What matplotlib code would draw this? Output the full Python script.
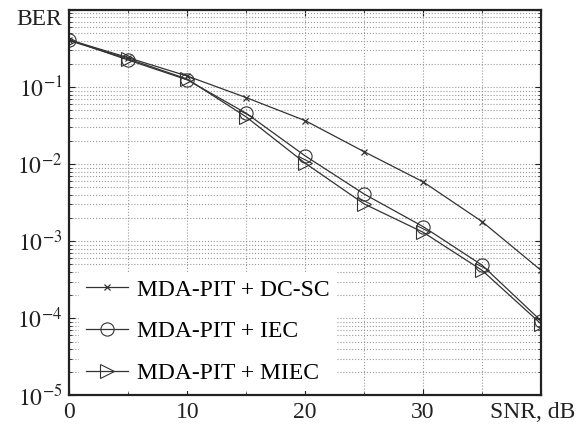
import matplotlib
matplotlib.use('Agg')
import matplotlib.pyplot as plt
from matplotlib.ticker import MultipleLocator, LogLocator, NullFormatter
from matplotlib.transforms import ScaledTranslation

# data
snr = [0, 5, 10, 15, 20, 25, 30, 35, 40]
ber_dcsc = [0.41, 0.24, 0.139, 0.073, 0.0367, 0.0145, 0.0059, 0.0018, 0.00042]
ber_iec = [0.41, 0.224, 0.124, 0.0457, 0.0128, 0.0041, 0.00155, 0.00049, 0.000093]
ber_miec = [0.40, 0.232, 0.127, 0.041, 0.0103, 0.00305, 0.00131, 0.00042, 0.000085]
labels = ['MDA-PIT + DC-SC', 'MDA-PIT + IEC', 'MDA-PIT + MIEC']
xtick_vals = [0, 10, 20, 30, 40]
xtick_labels = ['0', '10', '20', '30', 'SNR, dB']
ytick_vals = [1, 1e-1, 1e-2, 1e-3, 1e-4, 1e-5]
ytick_labels = ['BER', r'$10^{-1}$', r'$10^{-2}$', r'$10^{-3}$', r'$10^{-4}$', r'$10^{-5}$']

plt.rcParams['font.family'] = ['Liberation Serif', 'DejaVu Serif']
plt.rcParams['mathtext.fontset'] = 'stix'

fig = plt.figure(figsize=(5.83, 4.26), dpi=100)
ax = fig.add_axes([0.119, 0.0716, 0.809, 0.905])

col = '#333333'
ax.semilogy(snr, ber_dcsc, color=col, lw=0.9, marker='x', ms=4.5, mew=0.9, label=labels[0])
ax.semilogy(snr, ber_iec, color=col, lw=0.9, marker='o', ms=9.5, mfc='none', mew=0.8, label=labels[1])
ax.semilogy(snr, ber_miec, color=col, lw=0.9, marker='>', ms=9.5, mfc='none', mew=0.8, label=labels[2])

ax.set_xlim(0, 40)
ax.set_ylim(1e-5, 1)
ax.set_xticks(xtick_vals)
ax.set_xticklabels(xtick_labels)
ax.xaxis.set_minor_locator(MultipleLocator(5))
ax.set_yticks(ytick_vals)
ax.set_yticklabels(ytick_labels)
ax.yaxis.set_minor_locator(LogLocator(base=10, subs=range(2, 10), numticks=20))
ax.yaxis.set_minor_formatter(NullFormatter())

ax.tick_params(which='both', direction='in', top=True, right=True, labelsize=17, colors='#222222')
ax.tick_params(which='major', length=4, width=0.8)
ax.tick_params(which='minor', length=2.5, width=0.6)
ax.tick_params(axis='x', pad=5)
ax.tick_params(axis='y', pad=5)
ax.grid(True, which='both', ls=':', lw=0.8, color='#999999')
for s in ax.spines.values():
    s.set_linewidth(1.6)
    s.set_color('#222222')

# nudge the axis-name labels that sit in the last tick slots
snr_lbl = ax.get_xticklabels()[-1]
snr_lbl.set_transform(snr_lbl.get_transform() + ScaledTranslation(-6 / 72, 0, fig.dpi_scale_trans))
ber_lbl = ax.get_yticklabels()[0]
ber_lbl.set_transform(ber_lbl.get_transform() + ScaledTranslation(0, -5 / 72, fig.dpi_scale_trans))

leg = ax.legend(loc='lower left', bbox_to_anchor=(0.02, 0.012), borderaxespad=0, fontsize=17,
                frameon=True, fancybox=False, handlelength=1.8, labelspacing=0.85, borderpad=0.3,
                handletextpad=0.35)
leg.get_frame().set_edgecolor('none')
leg.get_frame().set_facecolor('white')
leg.get_frame().set_alpha(1)

fig.savefig('out.png', dpi=100)
